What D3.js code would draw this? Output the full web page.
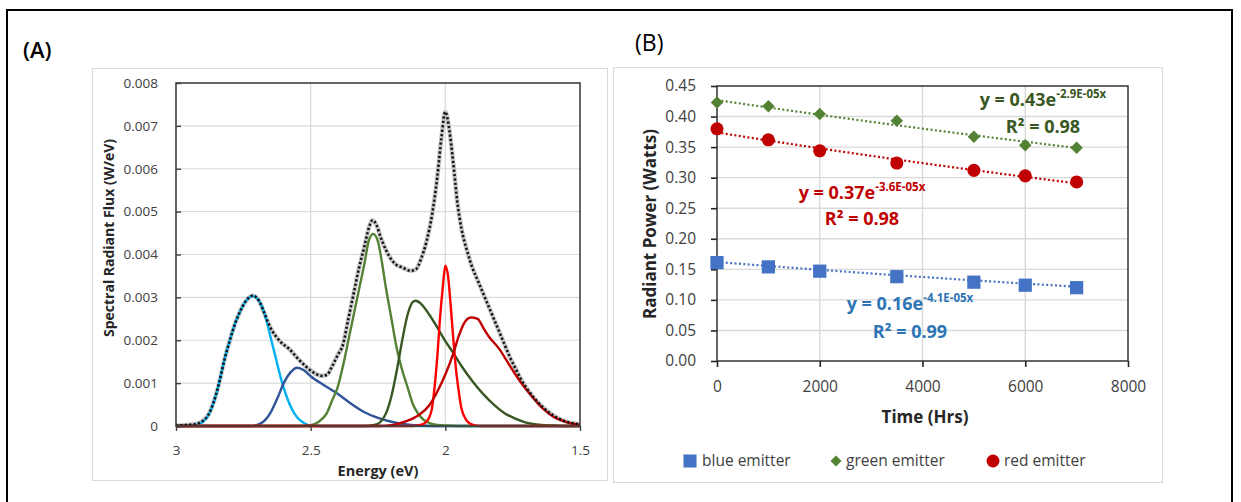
<!DOCTYPE html>
<html>
<head>
<meta charset="utf-8">
<script src="https://cdn.jsdelivr.net/npm/d3@7"></script>
<style>
  html, body { margin: 0; padding: 0; background: #fff; }
  svg { display: block; }
  text { font-family: "Open Sans", "DejaVu Sans", sans-serif; }
</style>
</head>
<body>
<svg id="fig" width="1241" height="502"></svg>
<script>
// ---------- Panel A: spectral components, [energy eV, flux W/eV] ----------
const lightBlue = [[3.00,0],[2.95,0.00001],[2.92,0.00004],[2.90,0.0001],[2.88,0.00025],[2.86,0.00055],[2.84,0.001],[2.82,0.00155],[2.80,0.002],[2.78,0.0024],[2.76,0.0027],[2.74,0.00292],[2.715,0.00303],[2.69,0.0029],[2.67,0.0026],[2.65,0.0021],[2.63,0.0016],[2.61,0.0011],[2.59,0.0007],[2.57,0.0004],[2.55,0.0002],[2.525,0.00007],[2.50,0.00001],[2.45,0],[1.50,0]];
const darkBlue = [[3.00,0],[2.72,0],[2.68,0.00008],[2.65,0.0003],[2.62,0.0007],[2.60,0.001],[2.575,0.00125],[2.55,0.00136],[2.525,0.0013],[2.50,0.00116],[2.45,0.00095],[2.40,0.00075],[2.35,0.00052],[2.30,0.00032],[2.25,0.00019],[2.20,0.0001],[2.15,0.00004],[2.10,0.00001],[2.05,0],[1.50,0]];
const green = [[3.00,0],[2.55,0],[2.50,0.00002],[2.47,0.0001],[2.44,0.0003],[2.42,0.0006],[2.40,0.0009],[2.38,0.0014],[2.36,0.002],[2.34,0.0026],[2.32,0.0032],[2.30,0.0038],[2.285,0.0043],[2.268,0.00448],[2.25,0.0043],[2.235,0.0038],[2.22,0.0032],[2.20,0.0025],[2.18,0.0018],[2.16,0.0013],[2.14,0.0009],[2.12,0.0005],[2.10,0.00028],[2.08,0.00014],[2.05,0.00005],[2.00,0.00001],[1.95,0],[1.50,0]];
const darkGreen = [[3.00,0],[2.30,0],[2.26,0.00003],[2.24,0.0001],[2.22,0.0003],[2.20,0.0007],[2.18,0.0013],[2.16,0.002],[2.14,0.0026],[2.12,0.0029],[2.11,0.00292],[2.09,0.00285],[2.06,0.0026],[2.03,0.0023],[2.00,0.00198],[1.97,0.0017],[1.94,0.0014],[1.90,0.00105],[1.86,0.00075],[1.82,0.0005],[1.78,0.0003],[1.74,0.00017],[1.70,0.00008],[1.65,0.00003],[1.60,0.00001],[1.55,0],[1.50,0]];
const red = [[3.00,0],[2.12,0],[2.09,0.00003],[2.07,0.0001],[2.06,0.0002],[2.05,0.0004],[2.04,0.0009],[2.03,0.0016],[2.02,0.0025],[2.01,0.0032],[2.00,0.00374],[1.99,0.0035],[1.98,0.0028],[1.97,0.002],[1.96,0.0013],[1.95,0.0008],[1.94,0.0004],[1.92,0.00012],[1.90,0.00003],[1.87,0],[1.50,0]];
const darkRed = [[3.00,0],[2.25,0],[2.20,0.00002],[2.15,0.0001],[2.10,0.00025],[2.06,0.00048],[2.03,0.0008],[2.00,0.0012],[1.97,0.0017],[1.95,0.0021],[1.93,0.0024],[1.905,0.00253],[1.88,0.0025],[1.86,0.0023],[1.84,0.0021],[1.80,0.0018],[1.76,0.0014],[1.72,0.00102],[1.68,0.0007],[1.64,0.00042],[1.60,0.00022],[1.55,0.00009],[1.50,0.00003]];
const total = [[3.00,0.00001],[2.95,0.00003],[2.92,0.00006],[2.90,0.00012],[2.88,0.00026],[2.86,0.00056],[2.84,0.001],[2.82,0.00155],[2.80,0.002],[2.78,0.0024],[2.76,0.0027],[2.74,0.00292],[2.715,0.00304],[2.69,0.0029],[2.67,0.0026],[2.65,0.0023],[2.63,0.0021],[2.61,0.00195],[2.58,0.0018],[2.55,0.00159],[2.52,0.0014],[2.49,0.00125],[2.46,0.00117],[2.44,0.00119],[2.42,0.0014],[2.40,0.00165],[2.38,0.0019],[2.36,0.0025],[2.34,0.0031],[2.32,0.0037],[2.30,0.0042],[2.285,0.0046],[2.27,0.0048],[2.255,0.00468],[2.24,0.0044],[2.22,0.0041],[2.20,0.00388],[2.18,0.00375],[2.16,0.0037],[2.13,0.00362],[2.11,0.00365],[2.09,0.0039],[2.07,0.0043],[2.05,0.0049],[2.03,0.0058],[2.015,0.0067],[2.00,0.00733],[1.985,0.0069],[1.97,0.0061],[1.955,0.0052],[1.94,0.0046],[1.92,0.0041],[1.90,0.0037],[1.88,0.0034],[1.86,0.0031],[1.84,0.0028],[1.82,0.0025],[1.80,0.0022],[1.78,0.0019],[1.76,0.0016],[1.74,0.00135],[1.72,0.0011],[1.70,0.0009],[1.67,0.00065],[1.64,0.00045],[1.60,0.00025],[1.55,0.0001],[1.50,0.00004]];

const componentColors = ["#00b0f0", "#2f5597", "#548235", "#385723", "#ff0000", "#c00000"];
const energyTicks = [3, 2.5, 2, 1.5];
const fluxTicks = [0, 0.001, 0.002, 0.003, 0.004, 0.005, 0.006, 0.007, 0.008];

// ---------- Panel B: radiant power over time ----------
const hours = [0, 1000, 2000, 3500, 5000, 6000, 7000];
const bluePower = [0.161, 0.154, 0.147, 0.138, 0.129, 0.124, 0.120];
const greenPower = [0.423, 0.417, 0.404, 0.393, 0.367, 0.353, 0.349];
const redPower = [0.380, 0.362, 0.344, 0.324, 0.312, 0.303, 0.293];
const emitterNames = ["blue emitter", "green emitter", "red emitter"];
const markerColors = ["#4472c4", "#548235", "#c00000"];
const fitLabelColors = ["#2e75b6", "#385723", "#c00000"];
// exponential trendline y = a·e^(b·x)
const fitA = [0.162, 0.427, 0.374];
const fitB = [-4.1e-5, -2.9e-5, -3.6e-5];
const fitR2 = [0.99, 0.98, 0.98];
const timeTicks = [0, 2000, 4000, 6000, 8000];
const powerTicks = [0, 0.05, 0.10, 0.15, 0.20, 0.25, 0.30, 0.35, 0.40, 0.45];

const svg = d3.select("#fig");
const axisColor = "#404040";
const gridColor = "#d9d9d9";

svg.append("rect").attr("width", 1241).attr("height", 502).attr("fill", "#fff");
// outer figure frame
svg.append("rect").attr("x", 7).attr("y", 10).attr("width", 1225).attr("height", 500)
  .attr("fill", "none").attr("stroke", "#000").attr("stroke-width", 2);

// chart boxes
svg.append("rect").attr("x", 92.5).attr("y", 68.5).attr("width", 515).attr("height", 412)
  .attr("fill", "#fff").attr("stroke", gridColor);
svg.append("rect").attr("x", 613.5).attr("y", 67.5).attr("width", 549).attr("height", 415)
  .attr("fill", "#fff").attr("stroke", gridColor);

svg.append("text").attr("x", 23).attr("y", 58).attr("font-size", 22).attr("font-weight", 600)
  .attr("fill", "#000").text("(A)");
svg.append("text").attr("x", 635).attr("y", 51).attr("font-size", 23)
  .attr("font-family", "Liberation Sans, Arial, sans-serif").attr("fill", "#000").text("(B)");

// ================= Panel A =================
const xA = d3.scaleLinear().domain([3, 1.5]).range([176, 580]);
const yA = d3.scaleLinear().domain([0, 0.008]).range([426, 83]);
const gA = svg.append("g");

gA.append("g").selectAll("line").data(fluxTicks.slice(1, -1)).join("line")
  .attr("x1", xA.range()[0]).attr("x2", xA.range()[1])
  .attr("y1", d => yA(d)).attr("y2", d => yA(d))
  .attr("stroke", gridColor).attr("stroke-width", 1.2);
gA.append("g").selectAll("line").data(energyTicks.slice(1, -1)).join("line")
  .attr("y1", yA.range()[0]).attr("y2", yA.range()[1])
  .attr("x1", d => xA(d)).attr("x2", d => xA(d))
  .attr("stroke", gridColor).attr("stroke-width", 1.2);

svg.append("clipPath").attr("id", "clipA").append("rect")
  .attr("x", 176).attr("y", 80).attr("width", 404).attr("height", 348);

const lineA = d3.line().x(d => xA(d[0])).y(d => yA(d[1])).curve(d3.curveMonotoneX);
const curves = [lightBlue, darkBlue, green, darkGreen, red, darkRed];
const curveG = gA.append("g").attr("clip-path", "url(#clipA)");
// total spectrum: soft grey underlay with black round dots
curveG.append("path").datum(total).attr("d", lineA).attr("fill", "none")
  .attr("stroke", "#c8c8c8").attr("stroke-width", 4.5).attr("stroke-linejoin", "round");
curves.forEach((c, i) => {
  curveG.append("path").datum(c).attr("d", lineA).attr("fill", "none")
    .attr("stroke", componentColors[i]).attr("stroke-width", 2.4).attr("stroke-linejoin", "round");
});
curveG.append("path").datum(total).attr("d", lineA).attr("fill", "none")
  .attr("stroke", "#111").attr("stroke-width", 2.6).attr("stroke-dasharray", "2.2,2.2");

gA.append("rect").attr("x", 176).attr("y", 83).attr("width", 404).attr("height", 343)
  .attr("fill", "none").attr("stroke", axisColor).attr("stroke-width", 1.6);

const axA_y = gA.append("g").attr("transform", "translate(176,0)")
  .call(d3.axisLeft(yA).tickValues(fluxTicks).tickSizeInner(-5).tickSizeOuter(0).tickPadding(18)
    .tickFormat(d => d === 0 ? "0" : d3.format(".3f")(d)));
const axA_x = gA.append("g").attr("transform", "translate(0,426)")
  .call(d3.axisBottom(xA).tickValues(energyTicks).tickSize(5).tickPadding(14).tickFormat(d3.format("~g")));
[axA_y, axA_x].forEach(a => {
  a.select(".domain").remove();
  a.selectAll("line").attr("stroke", axisColor).attr("stroke-width", 1.4);
  a.selectAll("text").attr("font-size", 13.5).attr("fill", axisColor)
    .attr("font-family", "Open Sans, sans-serif");
});

gA.append("text").attr("x", 378).attr("y", 476).attr("text-anchor", "middle")
  .attr("font-size", 14.5).attr("font-weight", 700).attr("fill", "#262626").text("Energy (eV)");
gA.append("text").attr("transform", "translate(114,238) rotate(-90)").attr("text-anchor", "middle")
  .attr("font-size", 14).attr("font-weight", 700).attr("fill", "#262626")
  .text("Spectral Radiant Flux (W/eV)");

// ================= Panel B =================
const xB = d3.scaleLinear().domain([0, 8000]).range([717, 1128]);
const yB = d3.scaleLinear().domain([0, 0.45]).range([361, 86]);
const gB = svg.append("g");

gB.append("g").selectAll("line").data(powerTicks.slice(1, -1)).join("line")
  .attr("x1", xB.range()[0]).attr("x2", xB.range()[1])
  .attr("y1", d => yB(d)).attr("y2", d => yB(d))
  .attr("stroke", gridColor).attr("stroke-width", 1.4);
gB.append("g").selectAll("line").data(timeTicks.slice(1, -1)).join("line")
  .attr("y1", yB.range()[0]).attr("y2", yB.range()[1])
  .attr("x1", d => xB(d)).attr("x2", d => xB(d))
  .attr("stroke", gridColor).attr("stroke-width", 1.4);

gB.append("rect").attr("x", 717).attr("y", 86).attr("width", 411).attr("height", 275)
  .attr("fill", "none").attr("stroke", axisColor).attr("stroke-width", 1.6);

const axB_y = gB.append("g").attr("transform", "translate(717,0)")
  .call(d3.axisLeft(yB).tickValues(powerTicks).tickSize(6).tickPadding(15).tickFormat(d3.format(".2f")));
const axB_x = gB.append("g").attr("transform", "translate(0,361)")
  .call(d3.axisBottom(xB).tickValues(timeTicks).tickSize(6).tickPadding(14).tickFormat(d3.format("d")));
[axB_y, axB_x].forEach(a => {
  a.select(".domain").remove();
  a.selectAll("line").attr("stroke", "#262626").attr("stroke-width", 1.6);
  a.selectAll("text").attr("font-size", 15.5).attr("fill", axisColor)
    .attr("font-family", "Open Sans, sans-serif");
});

const seriesB = [bluePower, greenPower, redPower];
const lineB = d3.line().x(d => xB(d[0])).y(d => yB(d[1]));
const tSpan = d3.range(0, 7001, 100);
seriesB.forEach((s, i) => {
  const pts = tSpan.map(t => [t, fitA[i] * Math.exp(fitB[i] * t)]);
  gB.append("path").datum(pts).attr("d", lineB).attr("fill", "none")
    .attr("stroke", markerColors[i]).attr("stroke-width", 2.2).attr("stroke-dasharray", "2,2.4");
});

// square-on-point diamond (a square turned by 45°)
const rhombus = {
  draw(ctx, size) {
    const r = Math.sqrt(size / 2);
    ctx.moveTo(0, -r); ctx.lineTo(r, 0); ctx.lineTo(0, r); ctx.lineTo(-r, 0); ctx.closePath();
  }
};
const symbols = [d3.symbolSquare, rhombus, d3.symbolCircle];
const symbolSizes = [175, 78, 135];
seriesB.forEach((s, i) => {
  gB.append("g").selectAll("path").data(s.map((v, k) => [hours[k], v])).join("path")
    .attr("transform", d => `translate(${xB(d[0])},${yB(d[1])})`)
    .attr("d", d3.symbol(symbols[i], symbolSizes[i]))
    .attr("fill", markerColors[i]);
});

// trendline equations
function expLabel(b) {
  const [m, e] = b.toExponential(1).split("e");
  const n = +e;
  return m + "E" + (n < 0 ? "-" : "+") + String(Math.abs(n)).padStart(2, "0") + "x";
}
const labelAt = [[3756, 0.0835, 0.0376], [6345, 0.417, 0.373], [2822, 0.2655, 0.2225]];
labelAt.forEach((p, i) => {
  const t = gB.append("text").attr("x", xB(p[0])).attr("y", yB(p[1])).attr("text-anchor", "middle")
    .attr("font-size", 18).attr("font-weight", 700).attr("fill", fitLabelColors[i]);
  t.append("tspan").text("y = " + fitA[i].toFixed(2) + "e");
  t.append("tspan").attr("dy", -8).attr("font-size", 11.5).text(expLabel(fitB[i]));
  gB.append("text").attr("x", xB(p[0])).attr("y", yB(p[2])).attr("text-anchor", "middle")
    .attr("font-size", 18).attr("font-weight", 700).attr("fill", fitLabelColors[i])
    .text("R\u00b2 = " + fitR2[i].toFixed(2));
});

gB.append("text").attr("x", 925).attr("y", 423).attr("text-anchor", "middle")
  .attr("font-size", 17).attr("font-weight", 700).attr("fill", "#262626").text("Time (Hrs)");
gB.append("text").attr("transform", "translate(656,224) rotate(-90)").attr("text-anchor", "middle")
  .attr("font-size", 17).attr("font-weight", 700).attr("fill", "#262626").text("Radiant Power (Watts)");

// legend
const legendX = [690, 836, 993];
const legendSizes = [170, 60, 130];
const lg = gB.append("g");
emitterNames.forEach((name, i) => {
  lg.append("path").attr("transform", `translate(${legendX[i]},461)`)
    .attr("d", d3.symbol(symbols[i], legendSizes[i])).attr("fill", markerColors[i]);
  lg.append("text").attr("x", legendX[i] + (i === 0 ? 12 : i === 1 ? 10 : 11)).attr("y", 461).attr("dy", "0.35em")
    .attr("font-size", 15.5).attr("fill", axisColor).text(name);
});
</script>
</body>
</html>
